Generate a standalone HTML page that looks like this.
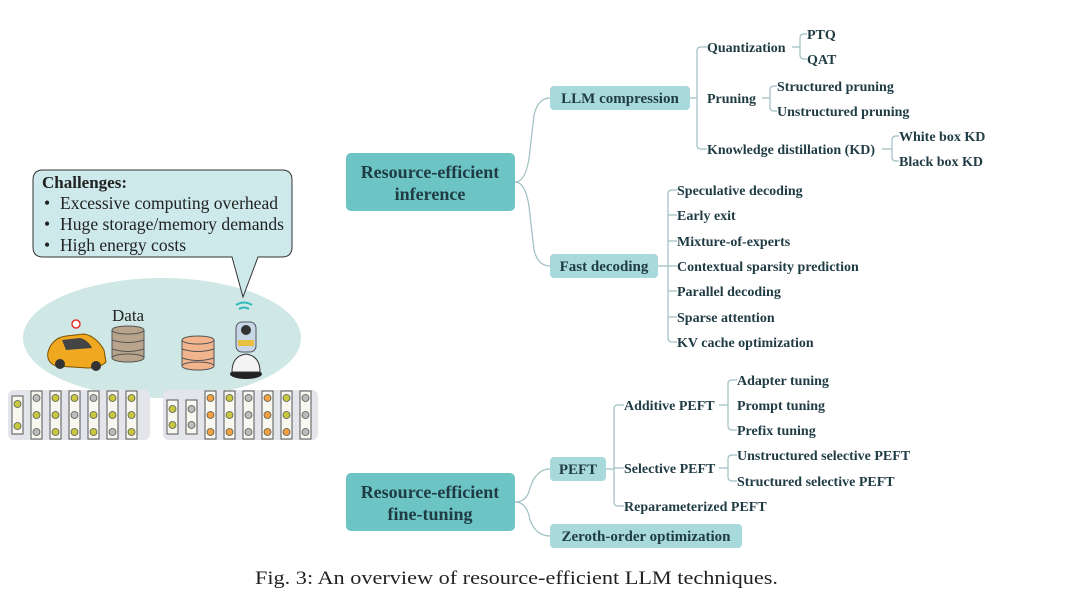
<!DOCTYPE html>
<html><head><meta charset="utf-8"><style>
html,body{margin:0;padding:0;background:#fff;}
svg{display:block;}
.t{font-family:"Liberation Serif",serif;font-weight:bold;fill:#1f3b44;}
.leaf{font-size:14px;}
.ln{fill:none;stroke:#9fbfc2;stroke-width:1.2;}
</style></head><body>
<svg width="1080" height="616" viewBox="0 0 1080 616" xmlns="http://www.w3.org/2000/svg">
<ellipse cx="162" cy="338" rx="139" ry="60" fill="#cfe8e5"/>
<path d="M43,170 H282 Q292,170 292,180 V247 Q292,257 282,257 H258 L243,297 L232,257 H43 Q33,257 33,247 V180 Q33,170 43,170 Z" fill="#cde9ec" stroke="#333" stroke-width="1"/>
<text x="42" y="188" style="font-family:'Liberation Serif',serif;font-weight:bold;font-size:17px;fill:#222">Challenges:</text>
<g style="font-family:'Liberation Serif',serif;font-size:17.5px;fill:#222">
<text x="44" y="209">•</text><text x="60" y="209" textLength="218" lengthAdjust="spacingAndGlyphs">Excessive computing overhead</text>
<text x="44" y="230">•</text><text x="60" y="230" textLength="224" lengthAdjust="spacingAndGlyphs">Huge storage/memory demands</text>
<text x="44" y="251">•</text><text x="60" y="251">High energy costs</text>
</g>
<path d="M236,305 Q244,300 252,305 M239,309 Q244,306 249,309" stroke="#3bb" stroke-width="2" fill="none"/>
<text x="112" y="321" style="font-family:'Liberation Serif',serif;font-size:17px;fill:#222">Data</text>
<path d="M48,352 Q52,338 66,336 L84,334 Q96,336 104,350 L106,362 Q100,368 88,368 L56,366 Q46,362 48,352 Z" fill="#f0a820" stroke="#7a5200" stroke-width="1"/>
<path d="M62,340 L80,338 Q88,340 92,348 L66,350 Z" fill="#444"/>
<circle cx="60" cy="364" r="5" fill="#333"/><circle cx="96" cy="366" r="5" fill="#333"/>
<circle cx="76" cy="324" r="4" fill="#fff" stroke="#d33" stroke-width="1.5"/>
<g fill="#b8a48c" stroke="#555" stroke-width="1">
<rect x="112" y="330" width="32" height="28"/><ellipse cx="128" cy="358" rx="16" ry="4"/><ellipse cx="128" cy="330" rx="16" ry="4"/>
<path d="M112,340 Q128,345 144,340 M112,349 Q128,354 144,349" fill="none"/>
</g>
<g fill="#f2b48c" stroke="#555" stroke-width="1">
<rect x="182" y="340" width="32" height="26"/><ellipse cx="198" cy="366" rx="16" ry="4"/><ellipse cx="198" cy="340" rx="16" ry="4"/>
<path d="M182,349 Q198,354 214,349 M182,358 Q198,363 214,358" fill="none"/>
</g>
<ellipse cx="246" cy="374" rx="16" ry="5" fill="#222"/>
<path d="M232,372 Q232,356 246,354 Q260,356 260,372 Z" fill="#f4f4f4" stroke="#333"/>
<rect x="236" y="322" width="20" height="30" rx="6" fill="#c8d7e6" stroke="#556"/>
<circle cx="246" cy="330" r="5" fill="#333"/>
<rect x="238" y="340" width="16" height="6" fill="#e8c040"/>
<rect x="8" y="390" width="142" height="50" rx="6" fill="#e4e5ea"/>
<rect x="163" y="390" width="155" height="50" rx="6" fill="#e4e5ea"/>
<g stroke="#555" stroke-width="1" fill="#f8f8f0">
<rect x="12" y="396" width="11" height="38"/>
<rect x="31" y="391" width="11" height="48"/><rect x="50" y="391" width="11" height="48"/><rect x="69" y="391" width="11" height="48"/><rect x="88" y="391" width="11" height="48"/><rect x="107" y="391" width="11" height="48"/><rect x="126" y="391" width="11" height="48"/>
<rect x="167" y="400" width="11" height="34"/><rect x="186" y="400" width="11" height="34"/>
<rect x="205" y="391" width="11" height="48"/><rect x="224" y="391" width="11" height="48"/><rect x="243" y="391" width="11" height="48"/><rect x="262" y="391" width="11" height="48"/><rect x="281" y="391" width="11" height="48"/><rect x="300" y="391" width="11" height="48"/>
</g>
<g stroke="#555" stroke-width="0.8" fill="#c8c840">
<circle cx="17.5" cy="404" r="3.5"/><circle cx="17.5" cy="426" r="3.5"/>
<circle cx="36.5" cy="398" r="3.5" fill="#bbb"/><circle cx="36.5" cy="415" r="3.5"/><circle cx="36.5" cy="432" r="3.5" fill="#bbb"/>
<circle cx="55.5" cy="398" r="3.5"/><circle cx="55.5" cy="415" r="3.5"/><circle cx="55.5" cy="432" r="3.5"/>
<circle cx="74.5" cy="398" r="3.5"/><circle cx="74.5" cy="415" r="3.5" fill="#bbb"/><circle cx="74.5" cy="432" r="3.5"/>
<circle cx="93.5" cy="398" r="3.5" fill="#bbb"/><circle cx="93.5" cy="415" r="3.5"/><circle cx="93.5" cy="432" r="3.5"/>
<circle cx="112.5" cy="398" r="3.5"/><circle cx="112.5" cy="415" r="3.5"/><circle cx="112.5" cy="432" r="3.5" fill="#bbb"/>
<circle cx="131.5" cy="398" r="3.5"/><circle cx="131.5" cy="415" r="3.5"/><circle cx="131.5" cy="432" r="3.5"/>
<circle cx="172.5" cy="409" r="3.5"/><circle cx="172.5" cy="425" r="3.5"/>
<circle cx="191.5" cy="409" r="3.5" fill="#bbb"/><circle cx="191.5" cy="425" r="3.5" fill="#bbb"/>
<circle cx="210.5" cy="398" r="3.5" fill="#f0a040"/><circle cx="210.5" cy="415" r="3.5" fill="#f0a040"/><circle cx="210.5" cy="432" r="3.5" fill="#f0a040"/>
<circle cx="229.5" cy="398" r="3.5"/><circle cx="229.5" cy="415" r="3.5"/><circle cx="229.5" cy="432" r="3.5" fill="#f0a040"/>
<circle cx="248.5" cy="398" r="3.5" fill="#bbb"/><circle cx="248.5" cy="415" r="3.5" fill="#bbb"/><circle cx="248.5" cy="432" r="3.5" fill="#bbb"/>
<circle cx="267.5" cy="398" r="3.5" fill="#f0a040"/><circle cx="267.5" cy="415" r="3.5" fill="#f0a040"/><circle cx="267.5" cy="432" r="3.5" fill="#f0a040"/>
<circle cx="286.5" cy="398" r="3.5"/><circle cx="286.5" cy="415" r="3.5"/><circle cx="286.5" cy="432" r="3.5" fill="#f0a040"/>
<circle cx="305.5" cy="398" r="3.5" fill="#bbb"/><circle cx="305.5" cy="415" r="3.5" fill="#bbb"/><circle cx="305.5" cy="432" r="3.5" fill="#bbb"/>
</g>

<path class="ln" d="M515,182 Q527,182 530,150 L534,115 Q538,98 550,98"/>
<path class="ln" d="M515,182 Q527,182 530,215 L534,250 Q538,266 550,266"/>
<path class="ln" d="M515,502 Q527,502 530,488 Q536,469 550,469"/>
<path class="ln" d="M515,502 Q527,502 530,520 Q536,536 550,536"/>
<path class="ln" d="M690,98 H697 M707,47 H701 Q697,47 697,51 V145 Q697,149 701,149 H707"/>
<path class="ln" d="M792,47 H800 M807,34 H804 Q800,34 800,38 V55 Q800,59 804,59 H807"/>
<path class="ln" d="M762,98 H770 M777,86 H774 Q770,86 770,90 V107 Q770,111 774,111 H777"/>
<path class="ln" d="M882,149 H892 M899,136 H896 Q892,136 892,140 V157 Q892,161 896,161 H899"/>
<path class="ln" d="M658,266 H677 M677,190 H672 Q668,190 668,194 V338 Q668,342 672,342 H677 M668,215 H677 M668,241 H677 M668,291 H677 M668,317 H677"/>
<path class="ln" d="M606,469 H614 M624,405 H618 Q614,405 614,409 V502 Q614,506 618,506 H624 M614,468 H624"/>
<path class="ln" d="M719,405 H728 M737,380 H732 Q728,380 728,384 V426 Q728,430 732,430 H737"/>
<path class="ln" d="M719,468 H728 M737,455 H732 Q728,455 728,459 V477 Q728,481 732,481 H737"/>

<rect x="346" y="153" width="169" height="58" rx="5" fill="#6cc4c4"/>
<text class="t" x="430" y="178" text-anchor="middle" font-size="18">Resource-efficient</text>
<text class="t" x="430" y="200" text-anchor="middle" font-size="18">inference</text>
<rect x="346" y="473" width="169" height="58" rx="5" fill="#6cc4c4"/>
<text class="t" x="430" y="498" text-anchor="middle" font-size="18">Resource-efficient</text>
<text class="t" x="430" y="520" text-anchor="middle" font-size="18">fine-tuning</text>

<rect x="550" y="86" width="140" height="24" rx="4" fill="#a8dadc"/>
<text class="t" x="620" y="103" text-anchor="middle" font-size="15">LLM compression</text>
<rect x="550" y="254" width="108" height="24" rx="4" fill="#a8dadc"/>
<text class="t" x="604" y="271" text-anchor="middle" font-size="15">Fast decoding</text>
<rect x="550" y="457" width="56" height="24" rx="4" fill="#a8dadc"/>
<text class="t" x="578" y="474" text-anchor="middle" font-size="15">PEFT</text>
<rect x="550" y="524" width="192" height="24" rx="4" fill="#a8dadc"/>
<text class="t" x="646" y="541" text-anchor="middle" font-size="15">Zeroth-order optimization</text>

<g class="t leaf">
<text x="707" y="52">Quantization</text>
<text x="707" y="103">Pruning</text>
<text x="707" y="154">Knowledge distillation (KD)</text>
<text x="807" y="39">PTQ</text>
<text x="807" y="64">QAT</text>
<text x="777" y="91">Structured pruning</text>
<text x="777" y="116">Unstructured pruning</text>
<text x="899" y="141">White box KD</text>
<text x="899" y="166">Black box KD</text>
<text x="677" y="195">Speculative decoding</text>
<text x="677" y="220">Early exit</text>
<text x="677" y="246">Mixture-of-experts</text>
<text x="677" y="271">Contextual sparsity prediction</text>
<text x="677" y="296">Parallel decoding</text>
<text x="677" y="322">Sparse attention</text>
<text x="677" y="347">KV cache optimization</text>
<text x="624" y="410">Additive PEFT</text>
<text x="624" y="473">Selective PEFT</text>
<text x="624" y="511">Reparameterized PEFT</text>
<text x="737" y="385">Adapter tuning</text>
<text x="737" y="410">Prompt tuning</text>
<text x="737" y="435">Prefix tuning</text>
<text x="737" y="460">Unstructured selective PEFT</text>
<text x="737" y="486">Structured selective PEFT</text>
</g>

<text x="255" y="584" textLength="523" lengthAdjust="spacingAndGlyphs" style="font-family:'Liberation Serif',serif;font-size:19px;fill:#222">Fig. 3: An overview of resource-efficient LLM techniques.</text>
</svg>
</body></html>
